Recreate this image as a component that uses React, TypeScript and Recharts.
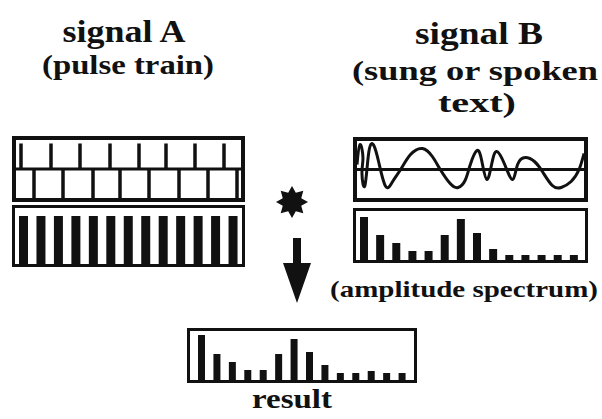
import React from 'react'
import { Bar, BarChart, Line, LineChart, ReferenceLine, XAxis, YAxis } from 'recharts'

const INK = '#111'
const SERIF = '"Liberation Serif", "DejaVu Serif", serif'

// signal A, time domain: pulse positions in the upper and lower row
const pulseTop = [5, 35, 64, 94, 123, 150, 179, 208]
const pulseBottom = [18, 47, 77, 104, 133, 163, 192, 221]

// signal A spectrum: equal harmonics
const pulseHarmonics = [48, 48, 48, 48, 48, 48, 48, 48, 48, 48, 48, 48, 48]

// signal B waveform (time, amplitude)
const waveTime = [0, 3, 6, 5, 8, 12, 17, 22, 29, 36, 44, 54, 66, 76, 84, 94, 102, 109, 114, 121, 126, 131, 136, 141, 149, 157, 162, 170, 179, 187, 197, 206, 216, 224, 229]
const waveAmp = [5, 25, 12, -4, -16, 18, 24, 7, -17, -12, 0, 15, 21, 13, 0, -14, -18, -11, 4, 19, 8, -10, 6, 18, 5, -10, 5, 12, 8, -2, -16, -18, -12, 0, 16]

// amplitude spectra
const voiceSpectrum = [43, 25, 17, 9, 9, 25, 41, 27, 11, 5, 5, 5, 5, 5]
const resultSpectrum = [45, 26, 18, 10, 10, 26, 41, 28, 15, 7, 7, 9, 7, 7]

const toBars = (vals: number[]) => vals.map((v, i) => ({ k: i + 1, v }))
const waveData = waveTime.map((t, i) => ({ t, v: waveAmp[i] }))
const baseline = [{ t: 0, v: 0 }, { t: 225, v: 0 }]

function Panel({
  left,
  top,
  width,
  height,
  border,
  children,
}: {
  left: number
  top: number
  width: number
  height: number
  border: number
  children: React.ReactNode
}) {
  return (
    <div
      style={{
        position: 'absolute',
        left,
        top,
        width,
        height,
        boxSizing: 'border-box',
        border: `${border}px solid ${INK}`,
        overflow: 'hidden',
      }}
    >
      {children}
    </div>
  )
}

function PulseTrain() {
  return (
    <LineChart width={225} height={58} data={baseline} margin={{ top: 0, right: 0, bottom: 0, left: 0 }}>
      <XAxis type="number" dataKey="t" domain={[0, 225]} hide />
      <YAxis type="number" domain={[-1, 1]} hide />
      <Line type="linear" dataKey="v" stroke={INK} strokeWidth={3} dot={false} isAnimationActive={false} />
      {pulseTop.map((t) => (
        <ReferenceLine key={'u' + t} segment={[{ x: t, y: 0 }, { x: t, y: 0.88 }]} stroke={INK} strokeWidth={3.5} />
      ))}
      {pulseBottom.map((t) => (
        <ReferenceLine key={'d' + t} segment={[{ x: t, y: -1 }, { x: t, y: 0 }]} stroke={INK} strokeWidth={3.5} />
      ))}
    </LineChart>
  )
}

function Spectrum({
  values,
  width,
  height,
  max,
  barSize,
  margin,
}: {
  values: number[]
  width: number
  height: number
  max: number
  barSize: number
  margin: { left: number; right: number }
}) {
  return (
    <BarChart width={width} height={height} data={toBars(values)} margin={{ top: 0, bottom: 0, ...margin }}>
      <XAxis dataKey="k" hide />
      <YAxis domain={[0, max]} hide />
      <Bar dataKey="v" fill={INK} barSize={barSize} isAnimationActive={false} />
    </BarChart>
  )
}

function Waveform() {
  return (
    <LineChart width={227} height={57} data={waveData} margin={{ top: 0, right: 0, bottom: 0, left: 0 }}>
      <XAxis type="number" dataKey="t" domain={[0, 227]} hide />
      <YAxis type="number" domain={[-28.5, 28.5]} hide />
      <ReferenceLine y={0} stroke={INK} strokeWidth={3} />
      <Line type="natural" dataKey="v" stroke={INK} strokeWidth={3} dot={false} isAnimationActive={false} />
    </LineChart>
  )
}

const starPoints = Array.from({ length: 16 }, (_, i) => {
  const r = i % 2 === 0 ? 16 : 10
  const a = (Math.PI * i) / 8 - Math.PI / 2
  return `${292 + r * Math.cos(a)},${202 + r * Math.sin(a)}`
}).join(' ')

export default function App() {
  const text = {
    fontFamily: SERIF,
    fontWeight: 'bold' as const,
    fill: INK,
    textAnchor: 'middle' as const,
    lengthAdjust: 'spacingAndGlyphs' as const,
  }
  return (
    <div style={{ position: 'absolute', left: 0, top: 0, width: 602, height: 419, background: '#fff' }}>
      <Panel left={12} top={136} width={233} height={66} border={4}>
        <PulseTrain />
      </Panel>
      <Panel left={12} top={205} width={233} height={62} border={3}>
        <Spectrum values={pulseHarmonics} width={227} height={56} max={56} barSize={9} margin={{ left: 0, right: 0 }} />
      </Panel>
      <Panel left={353} top={137} width={235} height={65} border={4}>
        <Waveform />
      </Panel>
      <Panel left={353} top={208} width={235} height={55} border={3}>
        <Spectrum values={voiceSpectrum} width={229} height={49} max={49} barSize={8} margin={{ left: 0, right: 3 }} />
      </Panel>
      <Panel left={187} top={328} width={230} height={55} border={3}>
        <Spectrum values={resultSpectrum} width={224} height={49} max={49} barSize={7} margin={{ left: 4, right: 4 }} />
      </Panel>
      <svg width={602} height={419} style={{ position: 'absolute', left: 0, top: 0, pointerEvents: 'none' }}>
        <text x={124} y={42} fontSize={31} textLength={123} {...text}>signal A</text>
        <text x={128} y={74} fontSize={28} textLength={172} {...text}>(pulse train)</text>
        <text x={479} y={44} fontSize={31} textLength={128} {...text}>signal B</text>
        <text x={475} y={80} fontSize={28} textLength={246} {...text}>(sung or spoken</text>
        <text x={477} y={112} fontSize={28} textLength={78} {...text}>text)</text>
        <text x={464} y={297} fontSize={23} textLength={268} {...text}>(amplitude spectrum)</text>
        <text x={292} y={408} fontSize={27} textLength={80} {...text}>result</text>
        <polygon points={starPoints} fill={INK} />
        <polygon points="293,238 301,238 301,263 311,263 297,303 283,263 293,263" fill={INK} />
      </svg>
    </div>
  )
}
